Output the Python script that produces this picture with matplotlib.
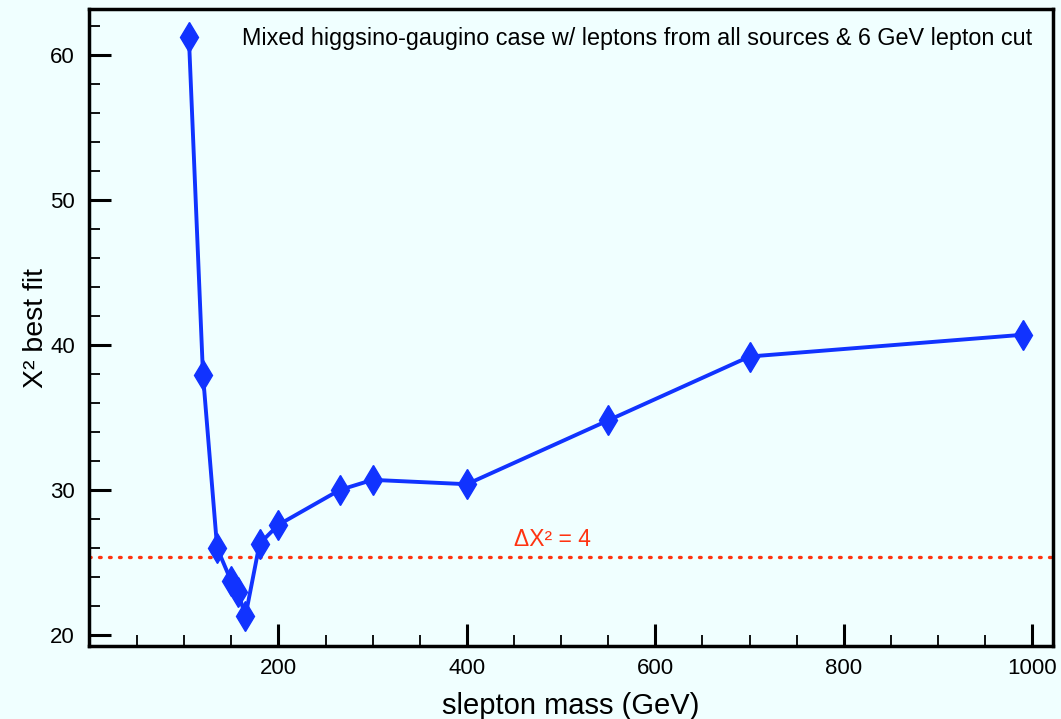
import numpy as np
import matplotlib
matplotlib.use('Agg')
import matplotlib.pyplot as plt
from matplotlib.ticker import MultipleLocator

plt.rcParams['font.family'] = ['Liberation Sans', 'DejaVu Sans']

# Data
mass = [105, 120, 135, 150, 157, 165, 180, 200, 265, 300, 400, 550, 700, 990]
chi2 = [61.2, 37.9, 26.0, 23.7, 23.0, 21.3, 26.3, 27.6, 30.0, 30.7, 30.4, 34.8, 39.2, 40.7]
delta_level = 25.35
xticks = [200, 400, 600, 800, 1000]
yticks = [20, 30, 40, 50, 60]

bg = '#f0ffff'
fig = plt.figure(figsize=(10.61, 7.19), dpi=100, facecolor=bg)
ax = fig.add_axes([89 / 1061, 1 - 646 / 719, (1053 - 89) / 1061, (646 - 9) / 719])
ax.set_facecolor(bg)

# Best fit curve
ax.plot(mass, chi2, color='#1133ff', lw=2.8, marker='d', ms=15, mec='#1133ff', zorder=3)

# Delta chi2 = 4 line
ax.axhline(delta_level, color='#ff3311', lw=2.4, ls=(0, (0.5, 2.5)), dash_capstyle='round')
ax.text(450, delta_level + 0.45, 'ΔX² = 4', color='#ff3311', fontsize=16.5, va='bottom', ha='left')

ax.text(0.978, 0.953, 'Mixed higgsino-gaugino case w/ leptons from all sources & 6 GeV lepton cut',
        transform=ax.transAxes, ha='right', va='center', fontsize=16.8)

ax.set_xlim(-1, 1022)
ax.set_ylim(19.25, 63.15)
ax.set_xticks(xticks)
ax.set_yticks(yticks)
ax.xaxis.set_minor_locator(MultipleLocator(50))
ax.yaxis.set_minor_locator(MultipleLocator(2))
ax.tick_params(which='both', direction='in', top=False, right=False, labelsize=16)
ax.tick_params(axis='y', pad=10)
ax.tick_params(axis='x', pad=9)
ax.tick_params(which='major', length=16, width=2.2)
ax.tick_params(which='minor', length=8, width=1.3)
for s in ax.spines.values():
    s.set_linewidth(2.5)

ax.set_xlabel('slepton mass (GeV)', fontsize=21, labelpad=9)
ax.set_ylabel('X² best fit', fontsize=20.5, labelpad=1)

fig.savefig('out.png', dpi=100, facecolor=bg)
